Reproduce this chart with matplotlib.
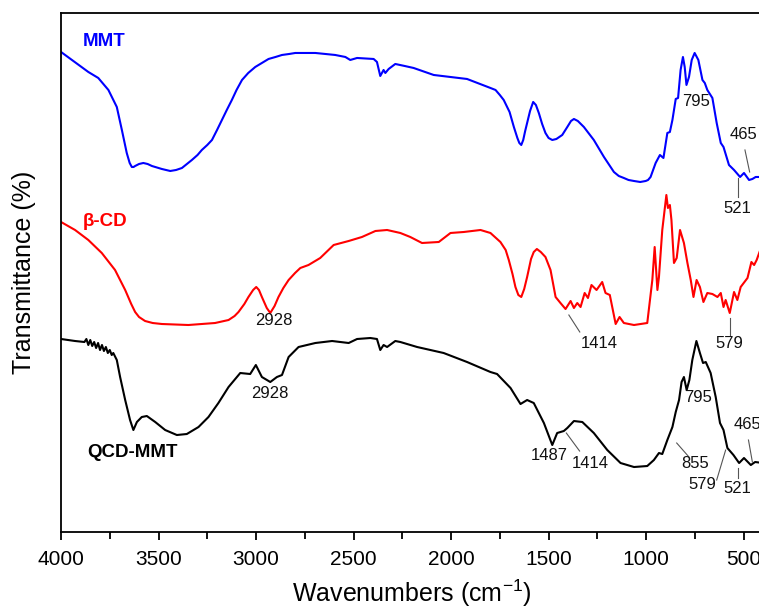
import numpy as np
import matplotlib
matplotlib.use("Agg")
import matplotlib.pyplot as plt

plt.rcParams['font.family'] = ['Liberation Sans', 'DejaVu Sans']

# ******* spectra (wavenumber, transmittance a.u.) *******
mmt_wn = [4000, 3860, 3809, 3757, 3714, 3688, 3663, 3648, 3637, 3628, 3620, 3600,
          3578, 3556, 3534, 3483, 3440, 3410, 3380, 3329, 3300, 3278, 3250, 3226,
          3200, 3175, 3150, 3124, 3100, 3072, 3040, 3004, 2970, 2936, 2900, 2867,
          2830, 2799, 2696, 2594, 2542, 2517, 2482, 2397, 2380, 2363, 2346, 2337,
          2320, 2286, 2238, 2192, 2089, 1918, 1798, 1772, 1750, 1730, 1700, 1678,
          1660, 1650, 1640, 1630, 1620, 1610, 1595, 1579, 1565, 1550, 1533, 1516,
          1500, 1481, 1460, 1430, 1404, 1385, 1370, 1350, 1319, 1268, 1216, 1165,
          1140, 1114, 1090, 1062, 1030, 1002, 990, 977, 951, 929, 911, 891, 878,
          865, 848, 836, 823, 811, 802, 793, 780, 766, 751, 732, 711, 699, 686,
          660, 638, 617, 603, 575, 549, 518, 498, 472, 455, 438, 400]
mmt_t = [480, 460, 454, 442, 425, 402, 379, 369, 365, 365, 366, 368,
         369, 368, 366, 363, 361, 362, 364, 372, 377, 382, 387, 392,
         402, 412, 422, 432, 442, 452, 459, 465, 469, 473, 475, 477,
         478, 479, 479, 477, 475, 472, 474, 473, 470, 456, 462, 459,
         463, 468, 466, 464, 457, 453, 444, 442, 437, 432, 420, 405,
         394, 389, 387, 392, 401, 409, 421, 430, 427, 419, 408, 399,
         394, 392, 393, 397, 405, 411, 413, 411, 405, 392, 375, 360,
         356, 354, 352, 351, 350, 351, 352, 355, 369, 377, 374, 399, 400,
         412, 433, 434, 462, 475, 465, 447, 455, 472, 479, 472, 452, 449, 442,
         434, 409, 389, 385, 367, 362, 355, 359, 352, 353, 355, 355]

bcd_wn = [4000, 3928, 3860, 3791, 3723, 3671, 3640, 3620, 3600, 3569, 3530, 3483,
          3347, 3210, 3141, 3110, 3090, 3060, 3039, 3015, 2999, 2985, 2970, 2945,
          2927, 2905, 2885, 2860, 2833, 2800, 2773, 2731, 2671, 2602, 2525, 2457,
          2388, 2328, 2260, 2209, 2149, 2063, 2003, 1935, 1849, 1798, 1747, 1720,
          1704, 1685, 1670, 1655, 1640, 1625, 1610, 1590, 1576, 1560, 1540, 1516,
          1490, 1464, 1439, 1413, 1387, 1370, 1353, 1336, 1315, 1298, 1280, 1254,
          1225, 1208, 1186, 1156, 1136, 1114, 1062, 994, 968, 956, 942, 934, 917,
          896, 888, 878, 870, 857, 843, 826, 806, 788, 771, 757, 741, 724, 706,
          686, 660, 634, 617, 603, 592, 571, 549, 532, 515, 480, 460, 446, 433, 400]
bcd_t = [310, 302, 292, 279, 262, 242, 228, 220, 215, 211, 209, 208,
         207, 209, 212, 216, 220, 228, 235, 242, 245, 242, 235, 224,
         219, 226, 235, 244, 252, 259, 264, 267, 274, 287, 291, 295,
         301, 302, 299, 295, 289, 290, 299, 300, 302, 299, 290, 282,
         272, 258, 245, 237, 235, 243, 255, 273, 280, 283, 280, 275,
         262, 235, 229, 223, 231, 224, 229, 225, 239, 234, 247, 242,
         250, 239, 237, 208, 215, 209, 207, 209, 252, 285, 242, 255, 302,
         337, 324, 327, 312, 269, 274, 302, 289, 269, 252, 235, 252, 245, 230,
         239, 238, 235, 239, 225, 232, 219, 240, 232, 245, 254, 270, 267, 272, 290]

qcd_wn = [4000, 3928, 3880, 3870, 3860, 3850, 3840, 3830, 3820, 3810, 3800, 3790,
          3780, 3770, 3760, 3750, 3740, 3732, 3714, 3697, 3671, 3646, 3629, 3611,
          3586, 3560, 3517, 3466, 3406, 3355, 3295, 3244, 3193, 3141, 3081, 3030,
          3001, 2970, 2927, 2893, 2867, 2833, 2782, 2696, 2610, 2525, 2482, 2414,
          2380, 2363, 2346, 2328, 2286, 2260, 2174, 2038, 1918, 1798, 1764, 1695,
          1644, 1610, 1576, 1524, 1481, 1456, 1422, 1404, 1370, 1327, 1268, 1199,
          1131, 1062, 994, 960, 934, 917, 891, 865, 848, 831, 818, 806, 792, 778,
          763, 742, 724, 708, 694, 669, 643, 621, 603, 583, 552, 523, 498, 463,
          441, 400]
qcd_t = [193, 191, 190, 193, 187, 192, 186, 190, 184, 189, 182, 187,
         181, 185, 179, 182, 177, 179, 172, 155, 132, 112, 102, 110,
         115, 116, 110, 102, 97, 98, 105, 115, 129, 145, 159, 158,
         167, 155, 150, 155, 157, 175, 185, 189, 191, 189, 193, 194,
         193, 182, 187, 185, 191, 190, 185, 179, 170, 160, 158, 144,
         128, 132, 129, 109, 87, 99, 101, 104, 111, 110, 99, 82,
         69, 65, 66, 72, 79, 78, 92, 105, 120, 132, 150, 155, 142, 152,
         172, 191, 179, 169, 170, 159, 135, 109, 102, 84, 77, 69, 74, 67,
         70, 69]

# ******* peak labels: (text, text pos, leader line or None) *******
mmt_peaks = [("795", (746, 430), None),
             ("465", (498, 397), ((493, 382), (469, 360))),
             ("521", (532, 323), ((527, 354), (527, 335)))]
bcd_peaks = [("2928", (2910, 212), None),
             ("1414", (1242, 189), ((1396, 217), (1340, 200))),
             ("579", (575, 189), ((570, 214), (570, 197)))]
qcd_peaks = [("2928", (2927, 139), None),
             ("1487", (1495, 77), None),
             ("1414", (1285, 69), ((1409, 99), (1341, 81))),
             ("855", (746, 69), ((843, 89), (780, 75))),
             ("795", (732, 135), None),
             ("579", (712, 48), ((592, 82), (638, 52))),
             ("521", (532, 44), ((527, 64), (527, 54))),
             ("465", (480, 108), ((475, 92), (455, 70)))]


def main():
    fig = plt.figure(figsize=(7.59, 6.09), dpi=100)
    ax = fig.add_axes([0.0804, 0.1264, 0.925, 0.8523])
    for sp in ax.spines.values():
        sp.set_linewidth(1.3)

    for wn, t, c in ((mmt_wn, mmt_t, '#0000ff'), (bcd_wn, bcd_t, '#ff0000'),
                     (qcd_wn, qcd_t, 'black')):
        ax.plot(wn, t, color=c, lw=1.5, solid_joinstyle='round')

    ax.text(3888, 490, "MMT", color='#0000ff', fontsize=13.5, fontweight='bold',
            ha='left', va='center')
    ax.text(3888, 310, "β-CD", color='#ff0000', fontsize=13.5, fontweight='bold',
            ha='left', va='center')
    ax.text(3865, 80, "QCD-MMT", color='black', fontsize=13.5, fontweight='bold',
            ha='left', va='center')

    for peaks in (mmt_peaks, bcd_peaks, qcd_peaks):
        for txt, pos, line in peaks:
            ax.text(pos[0], pos[1], txt, fontsize=12, color='#111111',
                    ha='center', va='center')
            if line is not None:
                ax.plot([line[0][0], line[1][0]], [line[0][1], line[1][1]],
                        color='#555555', lw=0.8)

    ax.set_xlim(4000, 400)
    ax.set_ylim(0, 519)
    ax.set_xticks([4000, 3500, 3000, 2500, 2000, 1500, 1000, 500])
    ax.set_xticks(np.arange(3750, 400, -500), minor=True)
    ax.tick_params(axis='x', which='major', direction='out', length=6, width=1.3,
                   labelsize=15, pad=7)
    ax.tick_params(axis='x', which='minor', direction='out', length=5, width=1.3)
    ax.set_yticks([])
    ax.set_xlabel("Wavenumbers (cm$^{\\mathregular{-1}}$)", fontsize=18, labelpad=6)
    ax.set_ylabel("Transmittance (%)", fontsize=18, labelpad=18)

    fig.savefig("out.png", dpi=100)


if __name__ == "__main__":
    main()
